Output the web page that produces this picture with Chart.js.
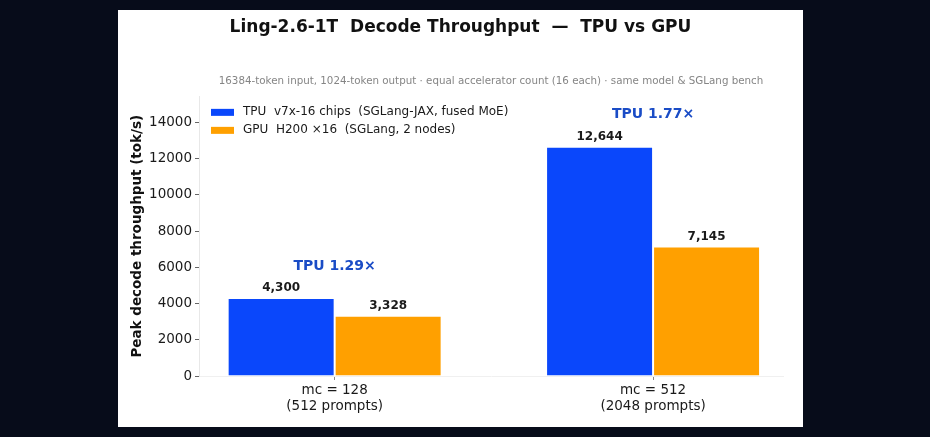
<!DOCTYPE html>
<html><head><meta charset="utf-8">
<script src="https://cdn.jsdelivr.net/npm/chart.js@4.4.1/dist/chart.umd.min.js"></script>
<style>
html,body{margin:0;padding:0;background:#070c1a;width:930px;height:437px;overflow:hidden}
#wrap{position:absolute;left:118px;top:10px;width:685px;height:417px;background:#ffffff}
canvas{display:block}
</style></head><body>
<div id="wrap"><canvas id="c" width="685" height="417"></canvas></div>
<script>
// ---- data ----
const categories = [["mc = 128", "(512 prompts)"], ["mc = 512", "(2048 prompts)"]];
const tpuValues = [4300, 12644];
const gpuValues = [3328, 7145];
const seriesLabels = ["TPU  v7x-16 chips  (SGLang-JAX, fused MoE)", "GPU  H200 ×16  (SGLang, 2 nodes)"];
const yTicks = [0, 2000, 4000, 6000, 8000, 10000, 12000, 14000];
const yMax = 15430;
const titleText = "Ling-2.6-1T  Decode Throughput  —  TPU vs GPU";
const subtitleText = "16384-token input, 1024-token output · equal accelerator count (16 each) · same model & SGLang bench";
const yAxisTitle = "Peak decode throughput (tok/s)";
const ratioPrefix = "TPU ";

// ---- styles ----
const FONT = "'DejaVu Sans', 'Noto Sans', sans-serif";
const tpuColor = "#0a47fb";
const gpuColor = "#ffa000";
const ratioColor = "#1a4cc6";

const toPoints = vals => vals.map((v, i) => ({ x: i, y: v }));

const labelPlugin = {
  id: 'labels',
  afterDatasetsDraw(chart) {
    const ctx = chart.ctx;
    const xs = chart.scales.x, ys = chart.scales.y;
    ctx.save();
    // value labels
    ctx.font = "bold 12px " + FONT;
    ctx.fillStyle = "#1a1a1a";
    ctx.textAlign = "center";
    ctx.textBaseline = "bottom";
    chart.data.datasets.forEach((ds, di) => {
      const meta = chart.getDatasetMeta(di);
      meta.data.forEach((bar, i) => {
        const v = ds.data[i].y;
        ctx.fillText(v.toLocaleString('en-US'), bar.x, bar.y - 4);
      });
    });
    // ratio labels
    ctx.font = "bold 14px " + FONT;
    ctx.fillStyle = ratioColor;
    ctx.textBaseline = "middle";
    categories.forEach((c, i) => {
      const top = Math.max(tpuValues[i], gpuValues[i]);
      const r = (tpuValues[i] / gpuValues[i]).toFixed(2);
      ctx.fillText(ratioPrefix + r + "×", xs.getPixelForValue(i), ys.getPixelForValue(top) - 32);
    });
    // legend
    const ca = chart.chartArea;
    ctx.font = "12px " + FONT;
    ctx.textAlign = "left";
    ctx.textBaseline = "middle";
    chart.data.datasets.forEach((ds, di) => {
      const cy = ca.top + 16 + di * 18;
      ctx.fillStyle = ds.backgroundColor;
      ctx.fillRect(ca.left + 12, cy - 3.5, 23, 7);
      ctx.fillStyle = "#1a1a1a";
      ctx.fillText(ds.label, ca.left + 44, cy);
    });
    ctx.restore();
  }
};

new Chart(document.getElementById('c'), {
  type: 'bar',
  data: {
    datasets: [
      { label: seriesLabels[0], data: toPoints(tpuValues), backgroundColor: tpuColor, borderColor: "#ffffff", borderWidth: 1, yAxisID: 'y' },
      { label: seriesLabels[1], data: toPoints(gpuValues), backgroundColor: gpuColor, borderColor: "#ffffff", borderWidth: 1, yAxisID: 'y' }
    ]
  },
  options: {
    responsive: false,
    animation: false,
    devicePixelRatio: 1,
    categoryPercentage: 0.672,
    barPercentage: 1.0,
    layout: { padding: 0 },
    plugins: {
      legend: { display: false },
      tooltip: { enabled: false },
      title: {
        display: true, text: titleText, color: "#111111",
        font: { family: FONT, size: 17, weight: 'bold' },
        padding: { top: 7, bottom: 31 }
      },
      subtitle: {
        display: true, text: subtitleText, color: "#858585", fullSize: false,
        font: { family: FONT, size: 10.3 },
        padding: { top: 7, bottom: 8.6 }
      }
    },
    scales: {
      x: {
        type: 'linear',
        offset: false,
        min: -0.426, max: 1.408,
        afterBuildTicks: s => { s.ticks = categories.map((_, i) => ({ value: i })); },
        afterFit: s => { s.height = 51; },
        ticks: {
          callback: v => categories[v],
          color: "#1a1a1a",
          font: { family: FONT, size: 13.5, lineHeight: 1.18 },
          padding: 3, maxRotation: 0, autoSkip: false
        },
        grid: { display: true, offset: false, drawOnChartArea: false, drawTicks: true, tickLength: 4, color: "#888888" },
        border: { display: true, color: "#f0f0f0" }
      },
      y: {
        type: 'linear',
        position: 'left',
        min: 0, max: yMax,
        afterBuildTicks: s => { s.ticks = yTicks.map(v => ({ value: v })); },
        afterFit: s => { s.width = 81; },
        ticks: {
          callback: v => String(v),
          color: "#1a1a1a",
          font: { family: FONT, size: 13.5 },
          padding: 3
        },
        grid: { display: true, drawOnChartArea: false, drawTicks: true, tickLength: 4, color: "#666666" },
        border: { display: true, color: "#e8e8e8" },
        title: {
          display: true, text: yAxisTitle, color: "#111111",
          font: { family: FONT, size: 13.5, weight: 'bold' },
          padding: { top: 11, bottom: 0 }
        }
      },
      yRight: {
        type: 'linear',
        position: 'right',
        display: true,
        afterFit: s => { s.width = 20; },
        ticks: { display: false },
        grid: { display: false },
        border: { display: false }
      }
    }
  },
  plugins: [labelPlugin]
});
</script>
</body></html>
